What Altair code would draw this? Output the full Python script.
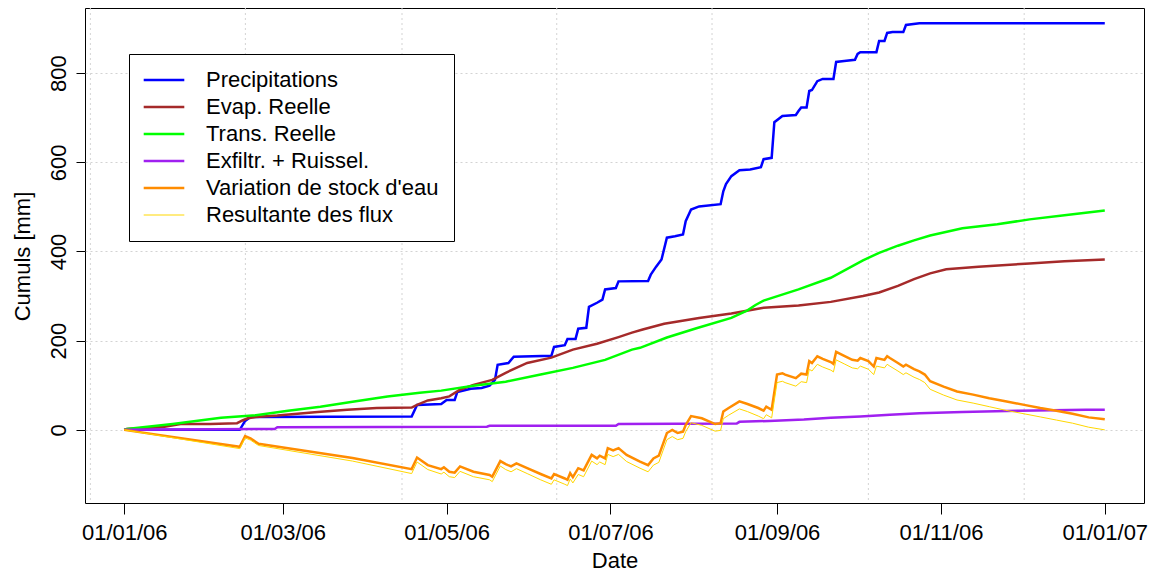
import altair as alt
import pandas as pd

BASE = pd.Timestamp("2006-01-01")

SERIES = ["Precipitations", "Evap. Reelle", "Trans. Reelle", "Exfiltr. + Ruissel.",
          "Variation de stock d'eau", "Resultante des flux"]
COLORS = ["#0000FF", "#A52A2A", "#00FF00", "#A020F0", "#FF8C00", "#FFD700"]
WIDTHS = [2.5, 2.5, 2.5, 2.5, 2.5, 1.0]

# days since 01/01/06 and cumulative values [mm]
PRECIP_DAYS = [0, 43, 45, 47, 107, 109, 118, 120, 123, 124, 129, 133, 136, 138, 139, 143, 145, 159, 160,
               164, 165, 168, 169, 172, 173, 176, 178, 179, 183, 184, 195, 196, 198, 200, 202, 205, 208,
               209, 211, 214, 222, 223, 224, 226, 229, 233, 237, 238, 241, 242, 245, 250, 251, 252, 254,
               255, 256, 258, 260, 264, 265, 268, 272, 273, 274, 280, 281, 283, 284, 286, 290, 291, 296, 365]
PRECIP_VALUES = [0, 0, 20, 29, 30, 56, 58, 67, 67, 85, 92, 94, 99, 112, 146, 150, 164, 166, 186,
                 190, 204, 204, 227, 229, 276, 285, 292, 315, 318, 333, 334, 348, 366, 382, 431, 434, 438,
                 468, 494, 501, 506, 535, 551, 569, 582, 584, 589, 607, 610, 690, 704, 706, 715, 723, 723,
                 760, 762, 782, 787, 787, 825, 827, 830, 843, 847, 847, 872, 872, 890, 892, 892, 908, 912, 912]

EVAP_DAYS = [0, 1, 15, 21, 32, 42, 44, 46, 49, 57, 72, 83, 94, 107, 109, 113, 118, 121, 125, 130, 137,
             142, 150, 159, 167, 176, 184, 189, 193, 201, 214, 226, 238, 251, 263, 275, 281, 288, 294,
             300, 306, 318, 337, 350, 365]
EVAP_VALUES = [0, 2, 7, 13, 13, 15, 21, 26, 29, 32, 40, 45, 49, 50, 56, 66, 71, 75, 90, 101, 112,
               128, 150, 162, 180, 193, 208, 218, 225, 238, 251, 261, 274, 279, 287, 300, 308, 323, 338,
               351, 360, 366, 373, 378, 382]

TRANS_DAYS = [0, 1, 18, 36, 49, 61, 73, 85, 98, 110, 118, 130, 142, 155, 167, 179, 189, 192, 202, 213,
              226, 232, 235, 238, 251, 263, 275, 281, 288, 294, 300, 312, 325, 337, 350, 365]
TRANS_VALUES = [0, 2, 13, 27, 33, 43, 52, 63, 75, 83, 88, 99, 108, 124, 139, 157, 180, 184, 207, 228,
                251, 268, 280, 290, 315, 341, 380, 397, 413, 425, 436, 452, 461, 472, 481, 492]

EXFIL_DAYS = [0, 56, 57, 135, 136, 183, 184, 228, 229, 240, 253, 263, 274, 285, 296, 312, 333, 358, 365]
EXFIL_VALUES = [0, 2, 6, 7, 9, 9, 13, 14, 18, 20, 23, 27, 30, 34, 37, 40, 43, 45, 45]

STOCK_DAYS = [0, 43, 45, 47, 50, 61, 85, 107, 109, 113, 118, 119, 121, 123, 125, 130, 136, 137, 140,
              142, 144, 146, 150, 155, 159, 160, 164, 165, 166, 167, 169, 171, 174, 176, 177, 179, 180,
              182, 184, 187, 192, 195, 197, 199, 202, 204, 206, 208, 209, 211, 215, 220, 222, 223, 225,
              229, 232, 236, 238, 239, 241, 243, 245, 246, 250, 252, 254, 255, 256, 258, 260, 263, 264,
              265, 268, 271, 273, 274, 277, 279, 280, 283, 284, 285, 288, 290, 291, 294, 296, 298, 300,
              305, 310, 316, 322, 328, 335, 341, 347, 353, 359, 365]
STOCK_VALUES = [0, -38, -14, -19, -31, -41, -63, -88, -62, -79, -88, -84, -94, -96, -82, -94, -101, -105, -70,
                -77, -82, -75, -86, -99, -109, -99, -109, -112, -97, -106, -86, -91, -56, -64, -58, -64, -41,
                -46, -41, -56, -71, -79, -64, -58, -7, 0, -7, -4, 11, 31, 26, 13, 15, 41, 49,
                64, 58, 49, 43, 52, 45, 124, 127, 124, 116, 126, 124, 154, 150, 165, 159, 152, 148,
                175, 166, 157, 155, 161, 154, 142, 161, 157, 165, 161, 150, 142, 146, 136, 131, 124, 109,
                97, 86, 79, 71, 64, 56, 49, 43, 36, 28, 24]
RESULT_VALUES = [0, -42, -18, -23, -35, -46, -70, -98, -72, -89, -99, -95, -105, -107, -93, -105, -112, -116, -81,
                 -89, -94, -87, -98, -112, -122, -112, -122, -125, -110, -119, -100, -105, -70, -78, -72, -78, -55,
                 -60, -55, -71, -86, -94, -79, -73, -22, -15, -22, -19, -4, 16, 10, -3, -1, 25, 33,
                 47, 41, 31, 25, 34, 27, 106, 109, 106, 98, 108, 106, 136, 132, 147, 141, 134, 130,
                 157, 148, 139, 137, 143, 136, 124, 143, 139, 147, 143, 132, 124, 128, 118, 113, 106, 91,
                 78, 67, 60, 52, 44, 36, 29, 22, 15, 6, 0]

GRID_DAYS = [-12.6, 45.1, 103.4, 161.0, 218.8, 277.0, 335.0]
Y_TICKS = [0, 200, 400, 600, 800]
X_TICK_MONTHS = [(2006, 1), (2006, 3), (2006, 5), (2006, 7), (2006, 9), (2006, 11), (2007, 1)]


def to_iso(days):
    return [(BASE + pd.to_timedelta(d, unit="D")).strftime("%Y-%m-%dT%H:%M:%S") for d in days]


frames = []
for i, (name, days, vals) in enumerate([
    (SERIES[0], PRECIP_DAYS, PRECIP_VALUES),
    (SERIES[1], EVAP_DAYS, EVAP_VALUES),
    (SERIES[2], TRANS_DAYS, TRANS_VALUES),
    (SERIES[3], EXFIL_DAYS, EXFIL_VALUES),
    (SERIES[4], STOCK_DAYS, STOCK_VALUES),
    (SERIES[5], STOCK_DAYS, RESULT_VALUES),
]):
    frames.append(pd.DataFrame({"date": to_iso(days), "value": vals, "series": name, "lw": WIDTHS[i]}))
df = pd.concat(frames, ignore_index=True)

grid_df = pd.DataFrame({"date": to_iso(GRID_DAYS)})

FONT = "Liberation Sans"

x_scale = alt.Scale(domain=[alt.DateTime(year=2005, month=12, date=17, hours=9, minutes=36),
                            alt.DateTime(year=2007, month=1, date=15, hours=14, minutes=24)])

vgrid = alt.Chart(grid_df).mark_rule(color="#d3d3d3", strokeDash=[2, 3], strokeWidth=1).encode(
    x=alt.X("date:T", scale=x_scale)
)

legend = alt.Legend(
    orient="none", legendX=44, legendY=46, title=None,
    symbolType="M-1.4,0H1.4", symbolSize=841, symbolOffset=9, labelFontSize=22, labelFont=FONT,
    labelColor="black", strokeColor="black", fillColor="white", padding=15, rowPadding=5,
    labelOffset=31, labelLimit=0,
    symbolStrokeWidth=alt.ExprRef("datum.value === 'Resultante des flux' ? 1 : 2.5"),
)

lines = alt.Chart(df).mark_line().encode(
    x=alt.X("date:T", scale=x_scale,
            axis=alt.Axis(values=[alt.DateTime(year=y, month=m, date=1) for y, m in X_TICK_MONTHS],
                          format="%d/%m/%y", title="Date", grid=False, tickSize=11, labelPadding=8,
                          titleY=64, titleBaseline="alphabetic")),
    y=alt.Y("value:Q", scale=alt.Scale(domain=[-164, 946], nice=False, zero=False),
            axis=alt.Axis(values=Y_TICKS, title="Cumuls [mm]", grid=True, gridDash=[2, 3],
                          gridColor="#d3d3d3", tickSize=9, labelAngle=270, labelAlign="center",
                          labelBaseline="bottom", labelPadding=6, titleX=-63, titleY=248,
                          titleAlign="center", titleBaseline="middle", titleAngle=270)),
    color=alt.Color("series:N", scale=alt.Scale(domain=SERIES, range=COLORS), legend=legend),
    strokeWidth=alt.StrokeWidth("lw:Q", scale=None, legend=None),
    detail="series:N",
    order=alt.Order("date:T"),
)

chart = alt.layer(vgrid, lines).properties(
    width=1059, height=495,
    autosize=alt.AutoSizeParams(type="none"),
    padding={"left": 77, "top": 0, "right": 5, "bottom": 69},
).configure_view(stroke="black", strokeWidth=1).configure_axis(
    domain=False, tickColor="black", tickWidth=1, labelColor="black", labelFont=FONT, labelFontSize=22,
    titleColor="black", titleFont=FONT, titleFontSize=22, titleFontWeight="normal",
)

chart.save("out.html", embed_options={"renderer": "svg", "actions": False})
